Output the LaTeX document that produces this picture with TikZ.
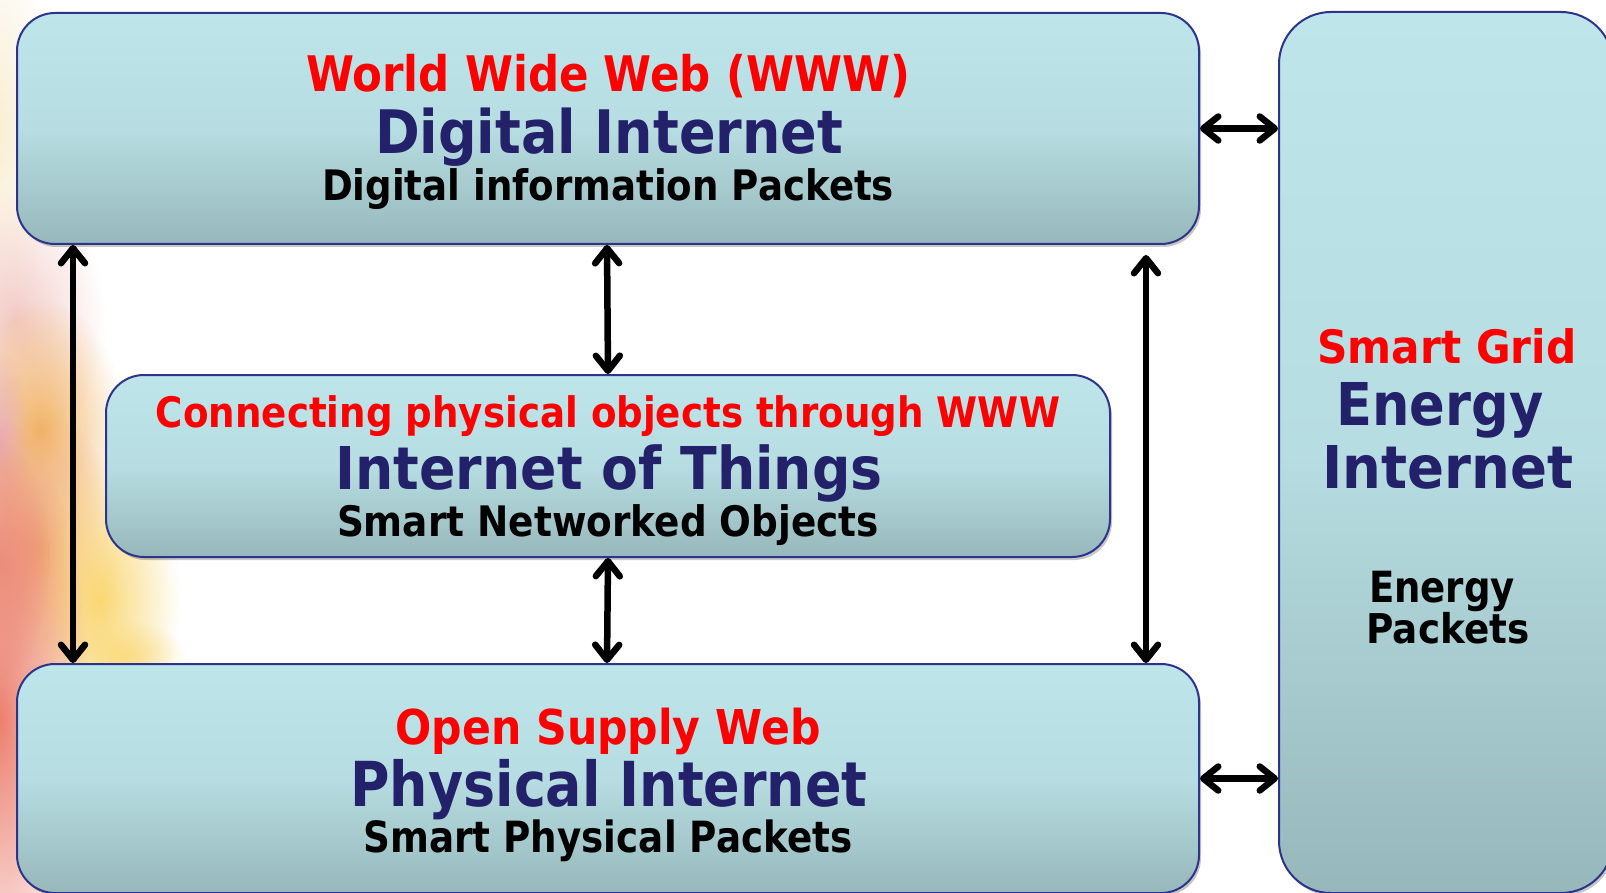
\documentclass[tikz,border=0pt]{standalone}
\usepackage{fontspec}
\setmainfont{DejaVu Sans}
\usepackage{graphicx}
\usetikzlibrary{arrows.meta,fadings,shadows}

\definecolor{boxtop}{RGB}{189,229,234}
\definecolor{boxbot}{RGB}{151,184,187}
\definecolor{boxline}{RGB}{46,52,140}
\definecolor{navytext}{RGB}{35,33,105}
\definecolor{redtext}{RGB}{255,0,0}
\definecolor{hazesalmon}{RGB}{236,128,112}
\definecolor{hazepink}{RGB}{240,190,185}
\definecolor{hazelilac}{RGB}{230,165,190}
\definecolor{hazeorange}{RGB}{242,180,100}
\definecolor{hazepeach}{RGB}{240,168,122}
\definecolor{hazeyellow}{RGB}{250,216,115}
\definecolor{hazecream}{RGB}{250,238,212}

\tikzfading[name=softspot, inner color=transparent!0, outer color=transparent!100]

% one line of bold text, set at a given size and stretched to a given width
\newcommand{\linetext}[3]{\resizebox{#1pt}{\height}{\fontsize{#2}{#2}\selectfont\bfseries #3}}

\tikzset{
  panel/.style={draw=boxline, line width=2pt, rounded corners=38pt,
    top color=boxtop, bottom color=boxbot, middle color=boxtop!82!boxbot,
    inner sep=0pt, anchor=north west,
    drop shadow={shadow xshift=2pt, shadow yshift=-3pt, opacity=0.22, fill=black}},
  txt/.style={anchor=base, inner sep=0pt, outer sep=0pt},
  redline/.style={txt, text=redtext},
  navyline/.style={txt, text=navytext},
  blackline/.style={txt, text=black},
  barb/.tip={Straight Barb[length=15pt,width=24pt,line cap=round,line join=round]},
  link/.style={line width=6.5pt, line cap=round, barb-barb},
  haze/.style={path fading=softspot}
}

\begin{document}
\begin{tikzpicture}[x=1pt,y=-1pt]
\useasboundingbox (0,0) rectangle (1606,893);
\fill[white] (0,0) rectangle (1606,893);

% soft warm glow along the left edge
\fill[haze, hazecream] (0,130) ellipse [x radius=50, y radius=200];
\fill[haze, hazepink, opacity=0.8] (15,320) ellipse [x radius=90, y radius=130];
\fill[haze, hazeorange] (40,430) ellipse [x radius=85, y radius=130];
\fill[haze, hazelilac, opacity=0.8] (0,440) ellipse [x radius=30, y radius=90];
\fill[haze, hazepeach] (40,550) ellipse [x radius=80, y radius=140];
\fill[haze, hazeyellow] (100,600) ellipse [x radius=80, y radius=150];
\fill[haze, hazeyellow, opacity=0.8] (125,655) ellipse [x radius=60, y radius=35];
\fill[haze, hazesalmon] (0,720) ellipse [x radius=90, y radius=300];
\fill[haze, hazesalmon, opacity=0.7] (0,560) ellipse [x radius=50, y radius=120];

% panels
\node[panel, minimum width=1182pt, minimum height=231pt] (www) at (16,12) {};
\node[panel, minimum width=1004pt, minimum height=182pt] (iot) at (105,374) {};
\node[panel, minimum width=1182pt, minimum height=229pt] (phys) at (16,663) {};
\node[panel, rounded corners=52pt, minimum width=334pt, minimum height=881pt] (grid) at (1278,11) {};

% panel texts
\node[redline]   (wwwA) at (608,92)  {\linetext{604}{49}{World Wide Web (WWW)}};
\node[navyline]  (wwwB) at (609,154) {\linetext{468}{60}{Digital Internet}};
\node[blackline] (wwwC) at (608,201) {\linetext{572}{42}{Digital information Packets}};

\node[redline]   (iotA) at (608,427) {\linetext{904}{42}{Connecting physical objects through WWW}};
\node[navyline]  (iotB) at (609,489) {\linetext{547}{59}{Internet of Things}};
\node[blackline] (iotC) at (608,536) {\linetext{542}{42}{Smart Networked Objects}};

\node[redline]   (physA) at (608,744) {\linetext{425}{48}{Open Supply Web}};
\node[navyline]  (physB) at (609,806) {\linetext{517}{62}{Physical Internet}};
\node[blackline] (physC) at (608,852) {\linetext{489}{43}{Smart Physical Packets}};

\node[redline]   (gridA) at (1447,363) {\linetext{259}{46}{Smart Grid}};
\node[navyline]  (gridB) at (1440,425) {\linetext{207}{59}{Energy}};
\node[navyline]  (gridC) at (1448,488) {\linetext{251}{59}{Internet}};
\node[blackline] (gridD) at (1442,602) {\linetext{146}{43}{Energy}};
\node[blackline] (gridE) at (1448,643) {\linetext{163}{41}{Packets}};

% connectors
\coordinate (xl) at (73,0);
\coordinate (xc) at (607,0);
\coordinate (xr) at (1146,0);
\draw[link] (www.south -| xl) -- (phys.north -| xl);
\draw[link] (www.south -| xc) -- (iot.north);
\draw[link] (iot.south) -- (phys.north -| xc);
\draw[link, shorten <=10pt] (www.south -| xr) -- (phys.north -| xr);
\draw[link] (www.east) -- (grid.west |- www.east);
\draw[link] (phys.east) -- (grid.west |- phys.east);
\end{tikzpicture}
\end{document}
